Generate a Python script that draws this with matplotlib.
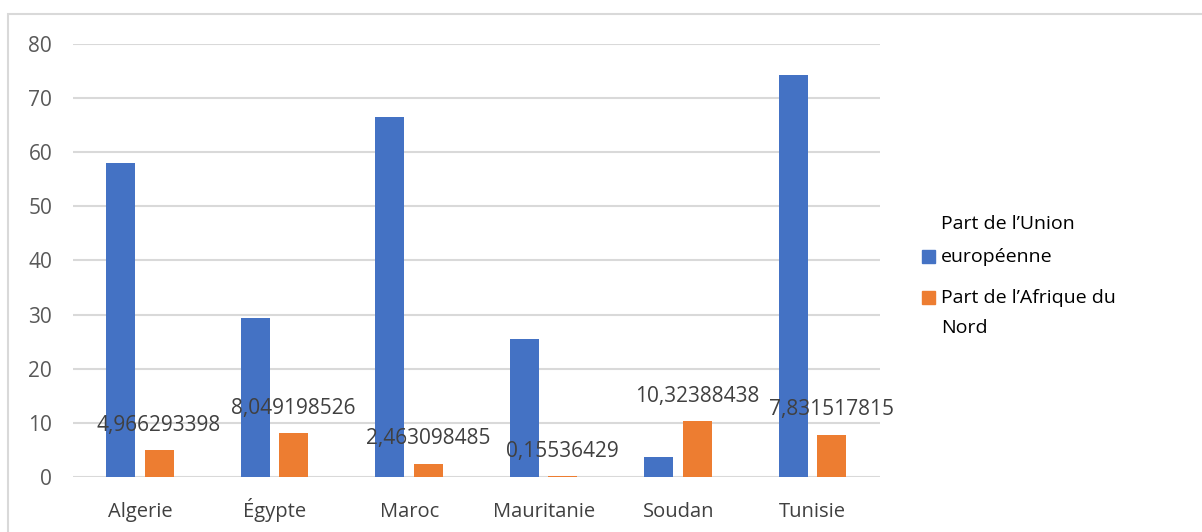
import matplotlib.pyplot as plt
import matplotlib.patches as mpatches
import numpy as np

pays = ['Algerie', 'Égypte', 'Maroc', 'Mauritanie', 'Soudan', 'Tunisie']
part_ue = [58.0, 29.4, 66.5, 25.5, 3.7, 74.3]
part_afrique_nord = [4.966293398, 8.049198526, 2.463098485, 0.15536429, 10.32388438, 7.831517815]
etiquettes = ['4,966293398', '8,049198526', '2,463098485', '0,15536429', '10,32388438', '7,831517815']
legende = [['Part de l\u2019Union', 'européenne'], ['Part de l\u2019Afrique du', 'Nord']]

bleu = '#4472c4'
orange = '#ed7d31'

plt.rcParams['font.family'] = ['Open Sans', 'DejaVu Sans']

W, H = 1202, 532
fig = plt.figure(figsize=(W / 100, H / 100), dpi=100)
# cadre gris autour du graphique
fig.patches.append(mpatches.Rectangle((8 / W, -0.1), 1.2, 1 - 14 / H + 0.1,
                                      transform=fig.transFigure, fill=False,
                                      edgecolor='#d9d9d9', linewidth=1.5))

ax = fig.add_axes([73 / W, 1 - 477 / H, (880 - 73) / W, (477 - 44) / H])
x = np.arange(len(pays))
w = 0.215
ax.bar(x - 0.145, part_ue, w, color=bleu, zorder=3)
b2 = ax.bar(x + 0.14, part_afrique_nord, w, color=orange, zorder=3)

for rect, txt in zip(b2, etiquettes):
    ax.annotate(txt, (rect.get_x() + rect.get_width() / 2, rect.get_height()),
                xytext=(0, 14), textcoords='offset points', ha='center', va='baseline',
                fontsize=15, color='#404040', zorder=4)

ax.set_xlim(-0.5, len(pays) - 0.5)
ax.set_ylim(0, 80)
ax.set_yticks(range(0, 81, 10))
ax.set_xticks(x)
ax.set_xticklabels(pays, va='baseline', color='#404040')
ax.grid(axis='y', color='#d9d9d9', linewidth=1.5, zorder=0)
for s in ax.spines.values():
    s.set_visible(False)
ax.tick_params(axis='both', length=0, labelsize=14.5)
ax.tick_params(axis='y', pad=15, labelcolor='#595959', labelsize=15)
ax.tick_params(axis='x', pad=29)

# légende dessinée à la main : carré aligné sur une ligne du libellé
lignes_y = [[224, 257], [298, 328]]
for couleur, textes, ys, idx in zip([bleu, orange], legende, lignes_y, [1, 0]):
    for t, yy in zip(textes, ys):
        fig.text(941 / W, 1 - yy / H, t, fontsize=14, color='black',
                 va='center', ha='left')
    yc = ys[idx]
    fig.patches.append(mpatches.Rectangle((922 / W, 1 - (yc + 6) / H), 13 / W, 13 / H,
                                          transform=fig.transFigure, color=couleur))

fig.savefig('out.png', dpi=100)
